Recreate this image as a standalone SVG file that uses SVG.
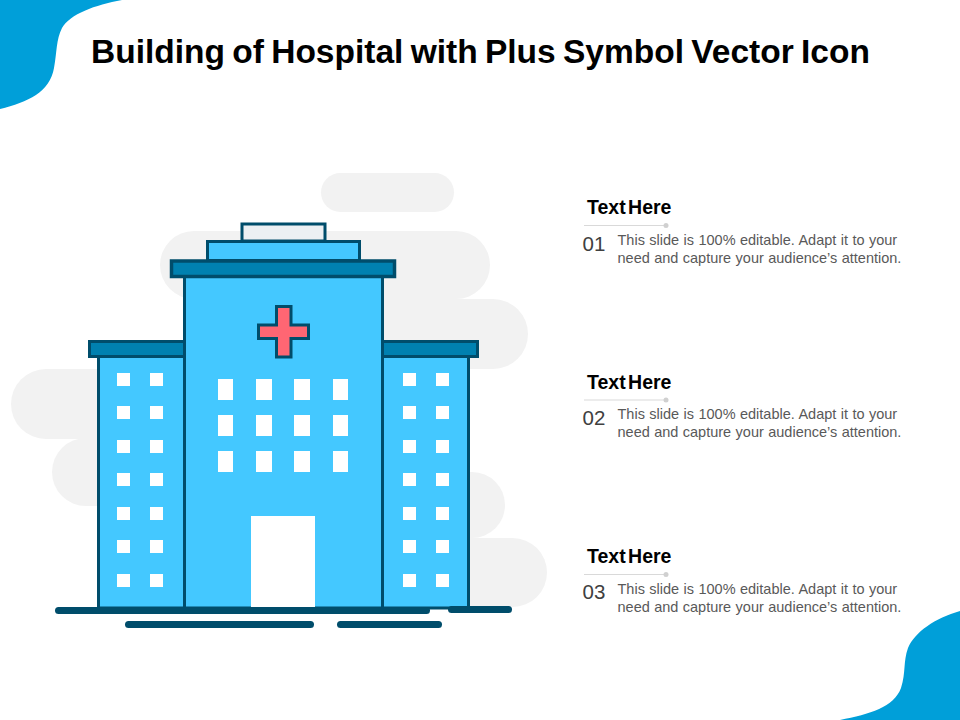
<svg xmlns="http://www.w3.org/2000/svg" width="960" height="720" viewBox="0 0 960 720">
<style>
.s{stroke:#004D6B;stroke-width:3}
.b{fill:#44C8FF}
.r{fill:#0081B0}
.w{fill:#fff}
.g{fill:#F2F2F2}
.d{fill:#004D6B}
.t{font:bold 19.500px "Liberation Sans",Arial,sans-serif;fill:#000;word-spacing:-3px}
.p{font:14.500px "Liberation Sans",Arial,sans-serif;fill:#595959;word-spacing:.4px}
.n{font:20.500px "Liberation Sans",Arial,sans-serif;fill:#404040}
.l{stroke:#D9D9D9;stroke-width:1}
.o{fill:#D0D0D0}
</style>
<rect width="960" height="720" fill="#fff"/>
<g id="blobs" fill="#009FD9">
<path d="M0 0H122C95 5 70 14 62 28C56 40 57 52 54 68C50 92 28 102 0 109Z"/>
<path d="M960 611C935 618 915 632 908 648C903 662 906 672 901 688C894 707 870 714 840 720H960Z"/>
</g>
<text x="91" y="63" font-family="Liberation Sans, Arial, sans-serif" font-weight="700" font-size="33.500" word-spacing="-2" fill="#000">Building of Hospital with Plus Symbol Vector Icon</text>
<g id="clouds">
<rect class="g" x="321" y="173" width="133" height="39" rx="19.500"/>
<rect class="g" x="160" y="231" width="330" height="68" rx="34"/>
<rect class="g" x="300" y="299" width="228" height="70" rx="35"/>
<rect class="g" x="11" y="369" width="200" height="70" rx="35"/>
<rect class="g" x="52" y="438" width="160" height="68" rx="34"/>
<rect class="g" x="400" y="472" width="105" height="66" rx="33"/>
<rect class="g" x="400" y="538" width="147" height="69" rx="34.500"/>
</g>
<g id="building">
<rect class="b s" x="98.500" y="356" width="86" height="252"/>
<rect class="b s" x="382.500" y="356" width="86" height="252"/>
<rect class="r s" x="89.500" y="341.500" width="96" height="15"/>
<rect class="r s" x="382.500" y="341.500" width="95" height="15"/>
<rect x="242" y="224" width="83" height="17" fill="#ECF0F3" class="s"/>
<rect class="b s" x="207.500" y="241.500" width="152" height="19"/>
<rect class="b s" x="184.500" y="276" width="198" height="332"/>
<rect class="r s" x="171.500" y="261" width="223" height="15.500" style="stroke-width:3.500"/>
<path id="cross" d="M276.500 306.500H291V325H308.500V338.500H291V357H276.500V338.500H258.500V325H276.500Z" fill="#FF6673" class="s"/>
<g class="w">
<rect x="251" y="516" width="64" height="91"/>
<rect x="218" y="379" width="15" height="21"/><rect x="256" y="379" width="16" height="21"/><rect x="294" y="379" width="16" height="21"/><rect x="333" y="379" width="15" height="21"/>
<rect x="218" y="415" width="15" height="21"/><rect x="256" y="415" width="16" height="21"/><rect x="294" y="415" width="16" height="21"/><rect x="333" y="415" width="15" height="21"/>
<rect x="218" y="451" width="15" height="21"/><rect x="256" y="451" width="16" height="21"/><rect x="294" y="451" width="16" height="21"/><rect x="333" y="451" width="15" height="21"/>
<rect x="117" y="373" width="13" height="13"/><rect x="150" y="373" width="13" height="13"/><rect x="403" y="373" width="13" height="13"/><rect x="436" y="373" width="13" height="13"/>
<rect x="117" y="406" width="13" height="13"/><rect x="150" y="406" width="13" height="13"/><rect x="403" y="406" width="13" height="13"/><rect x="436" y="406" width="13" height="13"/>
<rect x="117" y="440" width="13" height="13"/><rect x="150" y="440" width="13" height="13"/><rect x="403" y="440" width="13" height="13"/><rect x="436" y="440" width="13" height="13"/>
<rect x="117" y="473" width="13" height="13"/><rect x="150" y="473" width="13" height="13"/><rect x="403" y="473" width="13" height="13"/><rect x="436" y="473" width="13" height="13"/>
<rect x="117" y="507" width="13" height="13"/><rect x="150" y="507" width="13" height="13"/><rect x="403" y="507" width="13" height="13"/><rect x="436" y="507" width="13" height="13"/>
<rect x="117" y="540" width="13" height="13"/><rect x="150" y="540" width="13" height="13"/><rect x="403" y="540" width="13" height="13"/><rect x="436" y="540" width="13" height="13"/>
<rect x="117" y="574" width="13" height="13"/><rect x="150" y="574" width="13" height="13"/><rect x="403" y="574" width="13" height="13"/><rect x="436" y="574" width="13" height="13"/>
</g>
<rect class="d" x="55" y="607" width="375" height="7" rx="3.500"/>
<rect class="d" x="448" y="606" width="64" height="7" rx="3.500"/>
<rect class="d" x="125" y="621" width="189" height="7" rx="3.500"/>
<rect class="d" x="337" y="621" width="105" height="7" rx="3.500"/>
</g>
<g id="item1">
<text class="t" x="587" y="214">Text Here</text>
<path class="l" d="M584 225.500H666"/><circle class="o" cx="666" cy="225.500" r="2.500"/>
<text class="n" x="582.500" y="251">01</text>
<text class="p" x="617.500" y="245">This slide is 100% editable. Adapt it to your</text>
<text class="p" x="617.500" y="263">need and capture your audience’s attention.</text>
</g>
<g id="item2">
<text class="t" x="587" y="389">Text Here</text>
<path class="l" d="M584 400H666"/><circle class="o" cx="666" cy="400" r="2.500"/>
<text class="n" x="582.500" y="425">02</text>
<text class="p" x="617.500" y="419">This slide is 100% editable. Adapt it to your</text>
<text class="p" x="617.500" y="437">need and capture your audience’s attention.</text>
</g>
<g id="item3">
<text class="t" x="587" y="563">Text Here</text>
<path class="l" d="M584 574.500H666"/><circle class="o" cx="666" cy="574.500" r="2.500"/>
<text class="n" x="582.500" y="599">03</text>
<text class="p" x="617.500" y="594">This slide is 100% editable. Adapt it to your</text>
<text class="p" x="617.500" y="612">need and capture your audience’s attention.</text>
</g>
</svg>
